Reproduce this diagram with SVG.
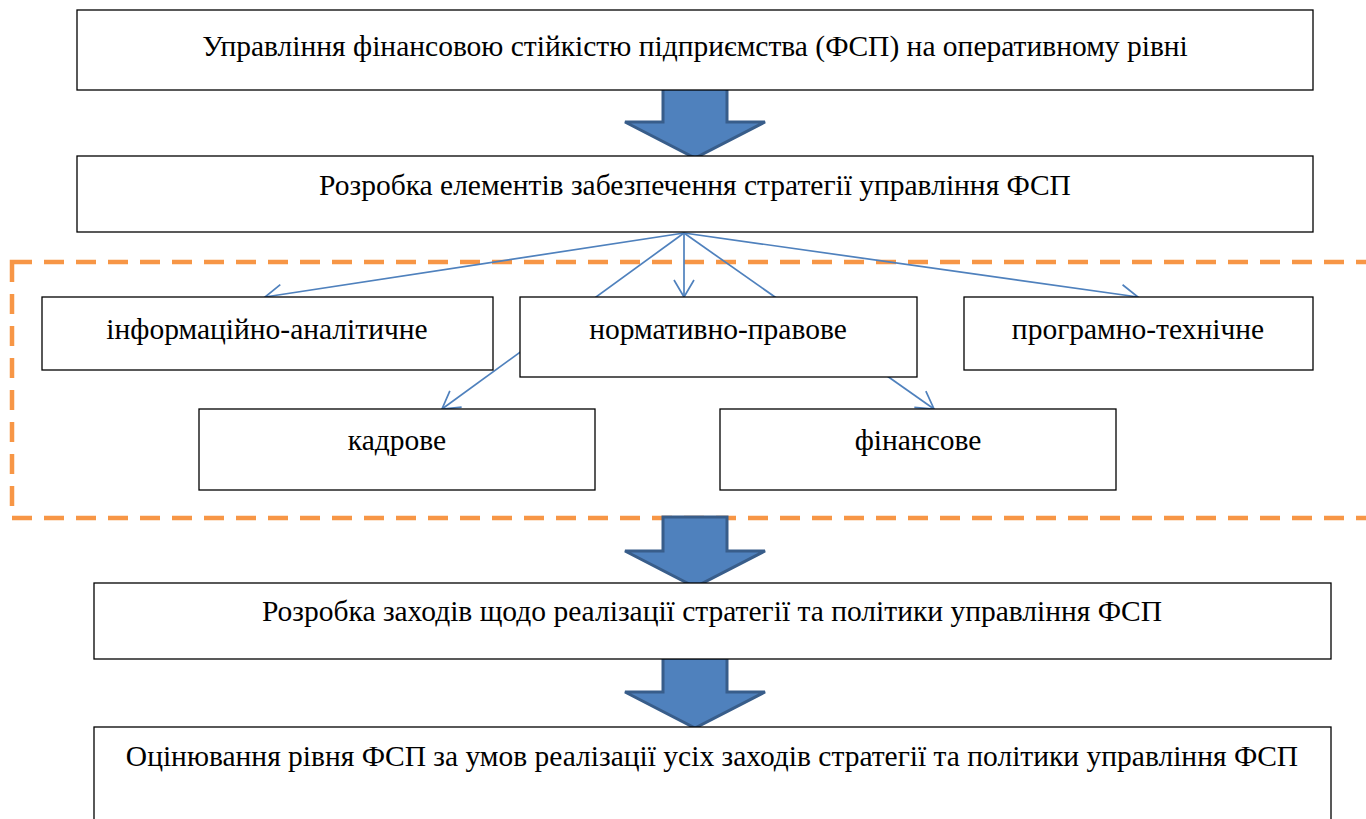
<svg xmlns="http://www.w3.org/2000/svg" width="1366" height="819" viewBox="0 0 1366 819">
<style>
.box{fill:#fff;stroke:#000;stroke-width:1.3}
.t{font-family:'Liberation Serif','DejaVu Serif',serif;font-size:29.5px;fill:#000;text-anchor:middle}
.con{stroke:#4F81BD;stroke-width:1.7;fill:none}
.big{fill:#4F81BD;stroke:#385D8A;stroke-width:3;stroke-linejoin:miter}
</style>
<defs>
<marker id="ah" markerUnits="userSpaceOnUse" markerWidth="26" markerHeight="26" refX="19" refY="11" orient="auto" viewBox="0 0 26 22">
<path d="M2,1 L19,11 L2,21" fill="none" stroke="#4F81BD" stroke-width="1.7"/>
</marker>
</defs>
<rect x="12" y="262" width="1370" height="256" fill="none" stroke="#F79646" stroke-width="4.5" stroke-dasharray="20,12"/>
<g id="connectors">
<line class="con" x1="684" y1="233" x2="265" y2="297" marker-end="url(#ah)"/>
<line class="con" x1="684" y1="233" x2="684" y2="297" marker-end="url(#ah)"/>
<line class="con" x1="684" y1="233" x2="1138" y2="297" marker-end="url(#ah)"/>
<line class="con" x1="684" y1="233" x2="442" y2="409" marker-end="url(#ah)"/>
<line class="con" x1="684" y1="233" x2="934" y2="409" marker-end="url(#ah)"/>
<path class="big" d="M663,88 H727 V122 H765 L695,158 L625,122 H663 Z"/>
<path class="big" d="M663,517 H727 V551 H765 L695,587 L625,551 H663 Z"/>
<path class="big" d="M663,658 H727 V692 H765 L695,728 L625,692 H663 Z"/>
</g>
<g id="n1"><rect class="box" x="77" y="10" width="1236" height="80"/><text class="t" x="695" y="56">Управління фінансовою стійкістю підприємства (ФСП) на оперативному рівні</text></g>
<g id="n2"><rect class="box" x="77" y="156" width="1236" height="76"/><text class="t" x="695" y="195">Розробка елементів забезпечення стратегії управління ФСП</text></g>
<g id="n3"><rect class="box" x="42" y="297" width="451" height="73"/><text class="t" x="267" y="339">інформаційно-аналітичне</text></g>
<g id="n4"><rect class="box" x="520" y="297" width="397" height="80"/><text class="t" x="718" y="339">нормативно-правове</text></g>
<g id="n5"><rect class="box" x="964" y="297" width="349" height="73"/><text class="t" x="1138" y="339">програмно-технічне</text></g>
<g id="n6"><rect class="box" x="199" y="409" width="396" height="81"/><text class="t" x="397" y="450">кадрове</text></g>
<g id="n7"><rect class="box" x="720" y="409" width="396" height="81"/><text class="t" x="918" y="450">фінансове</text></g>
<g id="n8"><rect class="box" x="94" y="583" width="1237" height="76"/><text class="t" x="712" y="621">Розробка заходів щодо реалізації стратегії та політики управління ФСП</text></g>
<g id="n9"><rect class="box" x="94" y="727" width="1237" height="110"/><text class="t" x="712" y="766">Оцінювання рівня ФСП за умов реалізації усіх заходів стратегії та політики управління ФСП</text></g>
</svg>
